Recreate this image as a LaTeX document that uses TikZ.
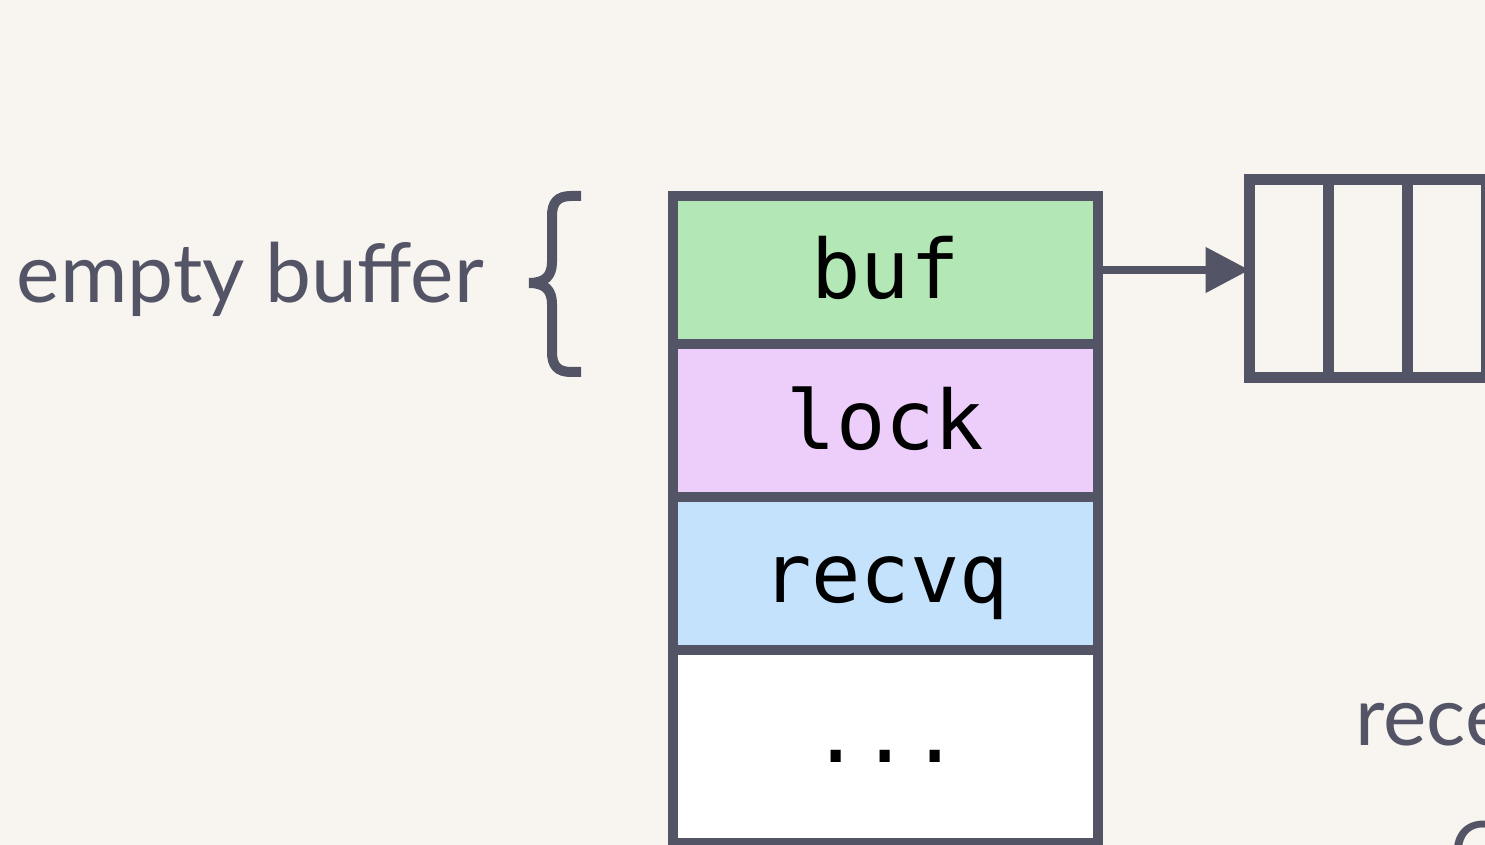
\documentclass[tikz,border=0pt]{standalone}
\usepackage{fontspec}
\setmainfont{Lato}
\setmonofont{DejaVu Sans Mono}
\usetikzlibrary{arrows.meta,positioning}
\definecolor{ink}{HTML}{545467}
\definecolor{paper}{HTML}{F8F5F0}
\definecolor{bufgreen}{HTML}{B3E8B6}
\definecolor{locklilac}{HTML}{EDCEFA}
\definecolor{recvblue}{HTML}{C5E2FD}

\begin{document}
\begin{tikzpicture}[
  x=0.5pt, y=-0.5pt,
  field/.style={draw=ink, line width=5pt, outer sep=0pt, minimum width=212.5pt, inner sep=0pt, anchor=north west, text height=29pt, text depth=0pt, font=\fontsize{41}{41}\selectfont\ttfamily},
  slot/.style={draw=ink, line width=5.5pt, outer sep=0pt, minimum width=39.5pt, minimum height=99pt, inner sep=0pt, anchor=north west},
  note/.style={text=ink, inner sep=0pt, font=\fontsize{41}{41}\selectfont},
]
\clip (0,0) rectangle (1485,845);
\fill[paper] (0,0) rectangle (1485,845);
% the struct
\node[field, fill=bufgreen, minimum height=74pt] (buf) at (673,196) {buf};
\node[field, fill=locklilac, minimum height=76.5pt] (lock) at (673,344) {lock};
\node[field, fill=recvblue, minimum height=76.5pt] (recvq) at (673,497) {recvq};
\node[field, fill=white, minimum height=96.5pt, text height=15.5pt] (rest) at (673,650) {...};
% the buffer slots
\foreach \i in {0,...,3}
  \node[slot] (slot\i) at (1249.5+79*\i,179.5) {};
\draw[ink, line width=4pt, -{Triangle[length=22pt, width=22pt]}] (buf.east) -- (buf.east -| slot0.west);
% labels
\node[note, anchor=base east] (empty) at (484,303) {empty buffer};
\draw[ink, line width=5pt] (581,196) -- (571,196) .. controls (557,196) and (552,203) .. (552,216)
  -- (552,262) .. controls (552,276) and (545,283) .. (529,283)
  .. controls (545,283) and (552,290) .. (552,304) -- (552,352)
  .. controls (552,365) and (557,372) .. (571,372) -- (581,372);
\node[note, anchor=base west] (recv) at (1355,745) {rece};
\node[note, anchor=base west] (recvtwo) at (1450,880) {C};
\end{tikzpicture}
\end{document}
